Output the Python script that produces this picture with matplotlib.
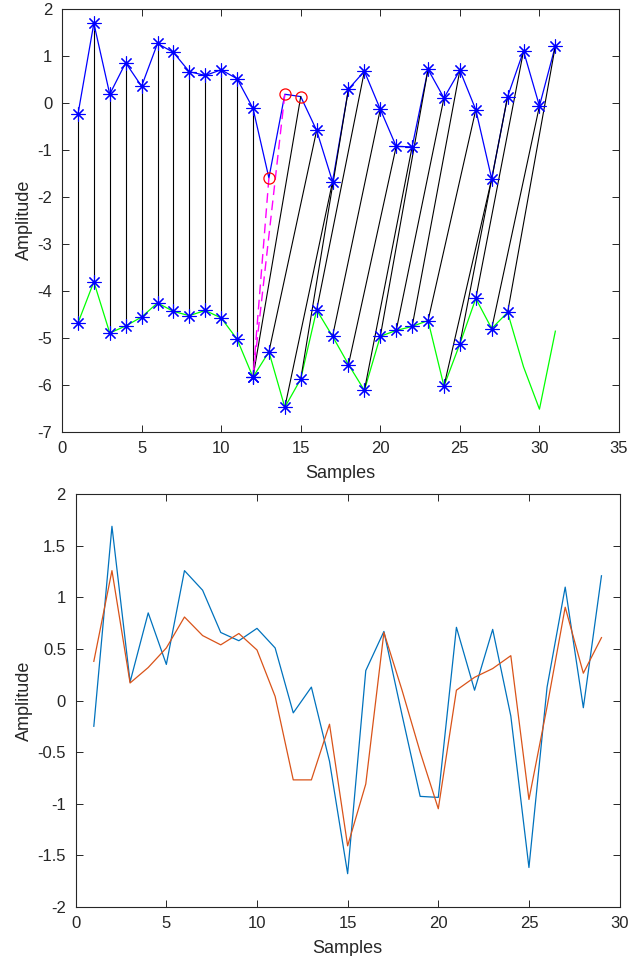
import numpy as np
import matplotlib
matplotlib.use("Agg")
import matplotlib.pyplot as plt
from matplotlib.ticker import FuncFormatter

# query signal (blue) and reference signal (green, drawn shifted down)
query = [-0.25, 1.69, 0.18, 0.85, 0.35, 1.26, 1.07, 0.66, 0.58, 0.70, 0.51,
         -0.12, -1.60, 0.18, 0.13, -0.59, -1.68, 0.29, 0.67, -0.14, -0.93,
         -0.94, 0.71, 0.10, 0.69, -0.15, -1.62, 0.13, 1.10, -0.07, 1.21]
reference = [0.38, 1.26, 0.17, 0.32, 0.51, 0.81, 0.63, 0.54, 0.65, 0.49, 0.04,
             -0.77, -0.23, -1.41, -0.81, 0.66, 0.10, -0.50, -1.05, 0.10, 0.225,
             0.31, 0.435, -0.96, -0.06, 0.905, 0.265, 0.61, -0.55, -1.45, 0.21]
ref_offset = 5.07

# matched sample pairs (1-based)
match_q = list(range(1, 13)) + list(range(15, 32))
match_r = list(range(1, 13)) + list(range(12, 29))
# dropped query samples, linked to reference sample 12
dropped_q = [13, 14]
dropped_r = [12, 12]
circled_q = [13, 14, 15]

TXT = (0.15, 0.15, 0.15)
plt.rcParams["font.family"] = ["Liberation Sans", "DejaVu Sans"]


def style(ax, xlim, ylim, xticks, yticks):
    ax.set_xlim(*xlim)
    ax.set_ylim(*ylim)
    ax.set_xticks(xticks)
    ax.set_yticks(yticks)
    ax.xaxis.set_major_formatter(FuncFormatter(lambda v, p: "%g" % v))
    ax.yaxis.set_major_formatter(FuncFormatter(lambda v, p: "%g" % v))
    ax.tick_params(direction="in", top=True, right=True, length=5,
                   width=0.7, colors=TXT, labelsize=12, pad=7)
    for s in ax.spines.values():
        s.set_color(TXT)
        s.set_linewidth(0.8)
    ax.set_xlabel("Samples", fontsize=13, color=TXT, labelpad=6)
    ax.set_ylabel("Amplitude", fontsize=13, color=TXT, labelpad=3)


fig = plt.figure(figsize=(6.42, 9.56), dpi=100)
ax1 = fig.add_axes([0.0966, 0.5484, 0.8676, 0.4425])
ax2 = fig.add_axes([0.1179, 0.0516, 0.8472, 0.4313])

q = np.array(query)
r = np.array(reference) - ref_offset
n = np.arange(1, len(q) + 1)

ax1.plot(n, q, color="b", lw=0.9)
ax1.plot(n, r, color=(0, 1, 0), lw=0.9)
for i, j in zip(match_q, match_r):
    ax1.plot([i, j], [q[i - 1], r[j - 1]], color="k", lw=0.8)
for i, j in zip(dropped_q, dropped_r):
    ax1.plot([i, j], [q[i - 1], r[j - 1]], color=(1, 0, 1), lw=1.0,
             ls=(0, (7, 4)))
star = (8, 2, 0)
for i, j in zip(match_q, match_r):
    if i not in circled_q:
        ax1.plot(i, q[i - 1], ls="none", marker=star, ms=10, mew=0.8, color="b")
    ax1.plot(j, r[j - 1], ls="none", marker=star, ms=10, mew=0.8, color="b")
cq = np.array(circled_q)
ax1.plot(cq, q[cq - 1], ls="none", marker="o", ms=8, mew=0.9,
         mfc="none", mec="r")
style(ax1, (0, 35), (-7, 2), range(0, 36, 5), range(-7, 3))

qa = q[np.array(match_q) - 1]
ra = np.array(reference)[np.array(match_r) - 1]
k = np.arange(1, len(qa) + 1)
ax2.plot(k, qa, color=(0, 0.447, 0.741), lw=0.9)
ax2.plot(k, ra, color=(0.85, 0.325, 0.098), lw=0.9)
style(ax2, (0, 30), (-2, 2), range(0, 31, 5), np.arange(-2, 2.01, 0.5))

fig.savefig("out.png", dpi=100)
